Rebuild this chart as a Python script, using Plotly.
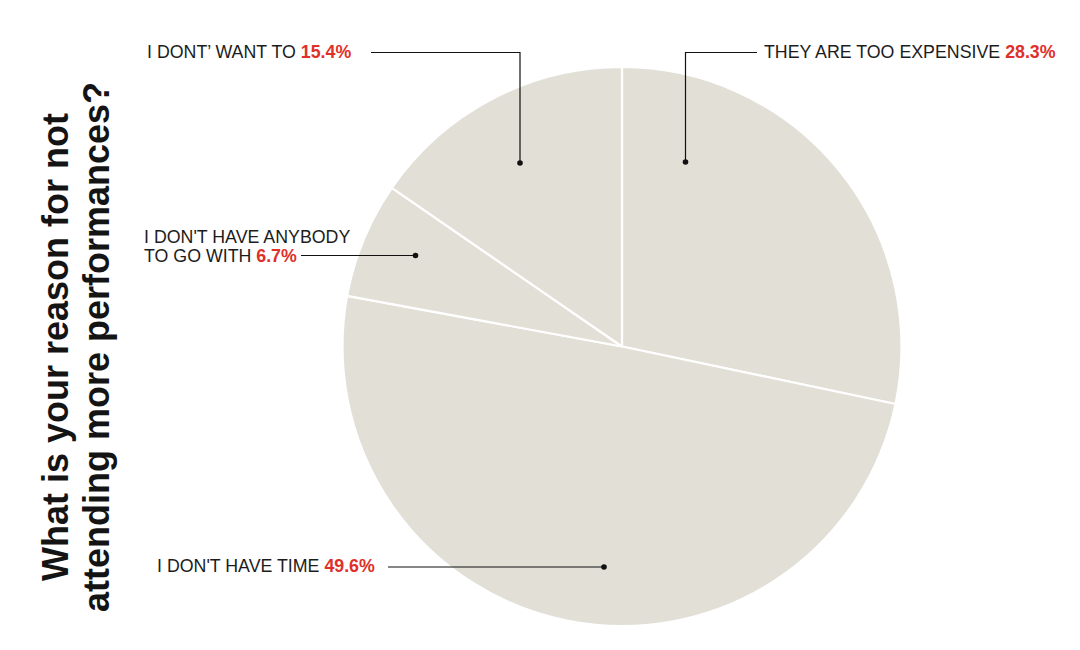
import plotly.graph_objects as go

# ---- data ----
categories = ["THEY ARE TOO EXPENSIVE", "I DON'T HAVE TIME", "I DON'T HAVE ANYBODY|TO GO WITH", "I DONT\u2019 WANT TO"]
values = [28.3, 49.6, 6.7, 15.4]
title_lines = ["What is your reason for not", "attending more performances?"]

# ---- layout / style ----
W, H = 1080, 650          # browser window
OFF = 8                   # default page (body) margin
FW, FH = W - OFF, H - OFF # figure size
cx, cy, R = 622, 346.5, 279.5   # pie centre/radius in window pixels
pie_color = "#e2dfd7"
red = "#e0302a"
ink = "#1c1c1c"
font_family = "Liberation Sans, Arial, sans-serif"
label_size = 17.8
line_pitch = 19
dot_r = 2.8

# leader layout per category (window pixel coords, y downward)
leaders = [
    dict(tx=762, ty=52, path=[(757, 52.5), (685.5, 52.5), (685.5, 162)]),
    dict(tx=155, ty=566, path=[(388, 567), (604, 567)]),
    dict(tx=142, ty=256, path=[(301, 255.5), (415.5, 255.5)]),
    dict(tx=145, ty=52, path=[(371, 52.5), (520, 52.5), (520, 163)]),
]

fig = go.Figure()
fig.add_trace(go.Pie(
    values=values, labels=[c.replace("|", " ") for c in categories],
    sort=False, direction="clockwise", rotation=0,
    marker=dict(colors=[pie_color] * len(values), line=dict(color="white", width=2.2)),
    textinfo="none", hoverinfo="skip", showlegend=False,
    domain=dict(x=[(cx - R - OFF) / FW, (cx + R - OFF) / FW],
                y=[(H - (cy + R)) / FH, (H - (cy - R)) / FH]),
))

shapes = []
annotations = []
for cat, val, ld in zip(categories, values, leaders):
    pts = ld["path"]
    d = "M " + " L ".join(f"{x},{y}" for x, y in pts)
    shapes.append(dict(type="path", path=d, xref="x", yref="y", layer="above",
                       line=dict(color="#111111", width=1.2)))
    ex, ey = pts[-1]
    shapes.append(dict(type="circle", xref="x", yref="y", layer="above",
                       x0=ex - dot_r, x1=ex + dot_r, y0=ey - dot_r, y1=ey + dot_r,
                       fillcolor="#111111", line=dict(width=0)))
    lines = cat.split("|")
    n = len(lines)
    for i, ln in enumerate(lines):
        txt = ln
        if i == n - 1:
            txt += f" <b><span style='color:{red}'>{val}%</span></b>"
        annotations.append(dict(
            x=ld["tx"], y=ld["ty"] - (n - 1 - i) * line_pitch, xref="x", yref="y",
            text=txt, showarrow=False, xanchor="left", yanchor="middle",
            font=dict(family=font_family, size=label_size, color=ink),
        ))

# title (rotated, two lines)
title_x = [55, 96]
for tl, tx in zip(title_lines, title_x):
    annotations.append(dict(
        x=tx, y=347, xref="x", yref="y", text="<b>" + tl + "</b>", showarrow=False,
        textangle=-90, xanchor="center", yanchor="middle",
        font=dict(family=font_family, size=36, color="#141414"),
    ))

fig.update_layout(
    width=FW, height=FH, margin=dict(l=0, r=0, t=0, b=0),
    paper_bgcolor="white", plot_bgcolor="rgba(0,0,0,0)",
    xaxis=dict(range=[OFF, W], visible=False, fixedrange=True, domain=[0, 1]),
    yaxis=dict(range=[H, OFF], visible=False, fixedrange=True, domain=[0, 1]),
    shapes=shapes, annotations=annotations,
)

fig.write_html("out.html")
